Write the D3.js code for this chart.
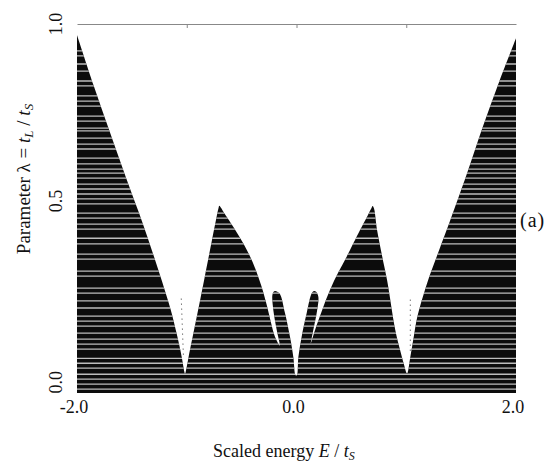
<!DOCTYPE html>
<html>
<head>
<meta charset="utf-8">
<script src="https://cdn.jsdelivr.net/npm/d3@7"></script>
<style>
  html, body { margin: 0; padding: 0; background: #fff; }
  svg { display: block; font-family: "Liberation Serif", "DejaVu Serif", serif; }
</style>
</head>
<body>
<div id="chart_div"></div>
<script>
// Edges of the black (allowed) region, [E / tS, lambda], left to right
const leftOuterEdge = [[-2.0, 0.969], [-1.85, 0.828], [-1.70, 0.694], [-1.55, 0.563], [-1.40, 0.436],
  [-1.25, 0.297], [-1.15, 0.197], [-1.09, 0.123], [-1.046, 0.060], [-1.022, 0.018], [-1.016, 0.011]];
const leftPeakEdge = [[-1.000, 0.032], [-0.977, 0.070], [-0.940, 0.126], [-0.888, 0.205], [-0.838, 0.283],
  [-0.770, 0.390], [-0.730, 0.452], [-0.712, 0.478], [-0.703, 0.487], [-0.690, 0.482], [-0.666, 0.470],
  [-0.575, 0.427], [-0.484, 0.380], [-0.400, 0.328], [-0.320, 0.260], [-0.270, 0.205], [-0.235, 0.160],
  [-0.196, 0.117], [-0.152, 0.092]];
const leftLobeEdge = [[-0.180, 0.136], [-0.211, 0.192], [-0.220, 0.234], [-0.208, 0.244], [-0.196, 0.246],
  [-0.175, 0.244], [-0.150, 0.237], [-0.105, 0.184], [-0.059, 0.116], [-0.029, 0.060], [-0.008, 0.008]];
const rightLobeEdge = [[0.003, 0.008], [0.017, 0.060], [0.047, 0.117], [0.093, 0.184], [0.139, 0.240],
  [0.160, 0.246], [0.178, 0.244], [0.199, 0.230], [0.184, 0.184], [0.153, 0.136], [0.130, 0.098]];
const rightPeakEdge = [[0.169, 0.136], [0.244, 0.201], [0.305, 0.249], [0.380, 0.298], [0.457, 0.343],
  [0.579, 0.418], [0.650, 0.460], [0.680, 0.478], [0.694, 0.486], [0.707, 0.478], [0.734, 0.418],
  [0.780, 0.345], [0.825, 0.277], [0.900, 0.136], [0.945, 0.078], [0.977, 0.041], [1.007, 0.013]];
const rightOuterEdge = [[1.037, 0.060], [1.070, 0.120], [1.100, 0.172], [1.190, 0.268], [1.300, 0.362],
  [1.400, 0.445], [1.550, 0.575], [1.700, 0.712], [1.850, 0.840], [2.0, 0.960]];

// faint dotted traces inside the two side gaps
const gapTraces = [[[-1.050, 0.225], [-1.030, 0.060]], [[1.037, 0.222], [1.037, 0.070]]];

// lambda values of the light scan lines across the black area
const scanLines = [0.924, 0.910, 0.887, 0.867, 0.839, 0.825, 0.797, 0.782, 0.768, 0.740, 0.726, 0.706,
  0.698, 0.678, 0.661, 0.647, 0.621, 0.605, 0.590, 0.579, 0.565, 0.548, 0.534, 0.520, 0.506, 0.492,
  0.466, 0.452, 0.435, 0.421, 0.395, 0.379, 0.350, 0.336, 0.302, 0.288, 0.254, 0.240, 0.218, 0.198,
  0.175, 0.161, 0.147, 0.127, 0.110, 0.096, 0.082, 0.056, 0.042, 0.028, 0.011, -0.003, -0.017, -0.031];

const xTicks = [-2, 0, 2];
const yTicks = [0, 0.5, 1];
const topTicks = [-1, 0, 1];
const lambdaMin = -0.042;

const width = 557;
const height = 464;
const plotLeft = 77, plotRight = 516, plotTop = 24, plotBottom = 393;

const x = d3.scaleLinear().domain([-2, 2]).range([plotLeft, plotRight]);
const y = d3.scaleLinear().domain([lambdaMin, 1]).range([plotBottom, plotTop]);

const svg = d3.select("#chart_div").append("svg")
  .attr("width", width)
  .attr("height", height)
  .attr("viewBox", [0, 0, width, height]);

// outline of the black region: straight sides and bottom, smooth curve along the top
const topEdge = [].concat(leftOuterEdge, leftPeakEdge, leftLobeEdge, rightLobeEdge, rightPeakEdge, rightOuterEdge);
const line = d3.line().x(d => x(d[0])).y(d => y(d[1]));
const smooth = d3.line().x(d => x(d[0])).y(d => y(d[1])).curve(d3.curveCatmullRom.alpha(0.5));

const outlinePath = `M${x(-2)},${y(lambdaMin)}` +
  smooth(topEdge).replace(/^M/, "L") +
  `L${x(2)},${y(lambdaMin)}Z`;

svg.append("clipPath").attr("id", "bandClip")
  .append("path").attr("d", outlinePath);

svg.append("path")
  .attr("d", outlinePath)
  .attr("fill", "#0c0c0c");

// scan lines, only visible over the black
svg.append("g")
  .attr("clip-path", "url(#bandClip)")
  .selectAll("line")
  .data(scanLines)
  .join("line")
  .attr("x1", plotLeft)
  .attr("x2", plotRight)
  .attr("y1", d => y(d))
  .attr("y2", d => y(d))
  .attr("stroke", "#bdbdbd")
  .attr("stroke-width", 1.3);

svg.append("g")
  .selectAll("path")
  .data(gapTraces)
  .join("path")
  .attr("d", line)
  .attr("fill", "none")
  .attr("stroke", "#777")
  .attr("stroke-width", 1)
  .attr("stroke-dasharray", "1.5,3.5");

// top frame line with small ticks
const topAxis = svg.append("g")
  .attr("transform", `translate(0,${plotTop})`)
  .call(d3.axisBottom(x).tickValues(topTicks).tickSize(4).tickSizeOuter(0).tickFormat(""));
topAxis.select(".domain").attr("stroke", "#888");
topAxis.selectAll(".tick line").attr("stroke", "#888");

// x tick labels
svg.append("g")
  .selectAll("text")
  .data(xTicks)
  .join("text")
  .attr("x", d => x(d) - 3)
  .attr("y", 413)
  .attr("text-anchor", "middle")
  .attr("font-size", 18)
  .attr("fill", "#111")
  .text(d => d.toFixed(1));

// y tick labels, rotated
svg.append("g")
  .selectAll("text")
  .data(yTicks)
  .join("text")
  .attr("transform", d => `translate(62,${y(d) + (d === 0 ? 4 : 0)}) rotate(-90)`)
  .attr("text-anchor", "middle")
  .attr("font-size", 18)
  .attr("fill", "#111")
  .text(d => d.toFixed(1));

// x axis title
const xTitle = svg.append("text")
  .attr("x", 213)
  .attr("y", 457)
  .attr("font-size", 18)
  .attr("fill", "#111");
xTitle.append("tspan").text("Scaled energy ");
xTitle.append("tspan").attr("font-style", "italic").text("E");
xTitle.append("tspan").text(" / ");
xTitle.append("tspan").attr("font-style", "italic").text("t");
xTitle.append("tspan").attr("font-style", "italic").attr("font-size", 12).attr("dy", 3).text("S");

// y axis title
const yTitle = svg.append("text")
  .attr("transform", "translate(30,179) rotate(-90)")
  .attr("text-anchor", "middle")
  .attr("font-size", 19)
  .attr("fill", "#111");
yTitle.append("tspan").text("Parameter λ = ");
yTitle.append("tspan").attr("font-style", "italic").text("t");
yTitle.append("tspan").attr("font-style", "italic").attr("font-size", 13).attr("dy", 3).text("L");
yTitle.append("tspan").attr("dy", -3).text(" / ");
yTitle.append("tspan").attr("font-style", "italic").text("t");
yTitle.append("tspan").attr("font-style", "italic").attr("font-size", 13).attr("dy", 3).text("S");

// panel label
svg.append("text")
  .attr("x", 520)
  .attr("y", 227)
  .attr("font-size", 20)
  .attr("letter-spacing", 1)
  .attr("fill", "#111")
  .text("(a)");
</script>
</body>
</html>
